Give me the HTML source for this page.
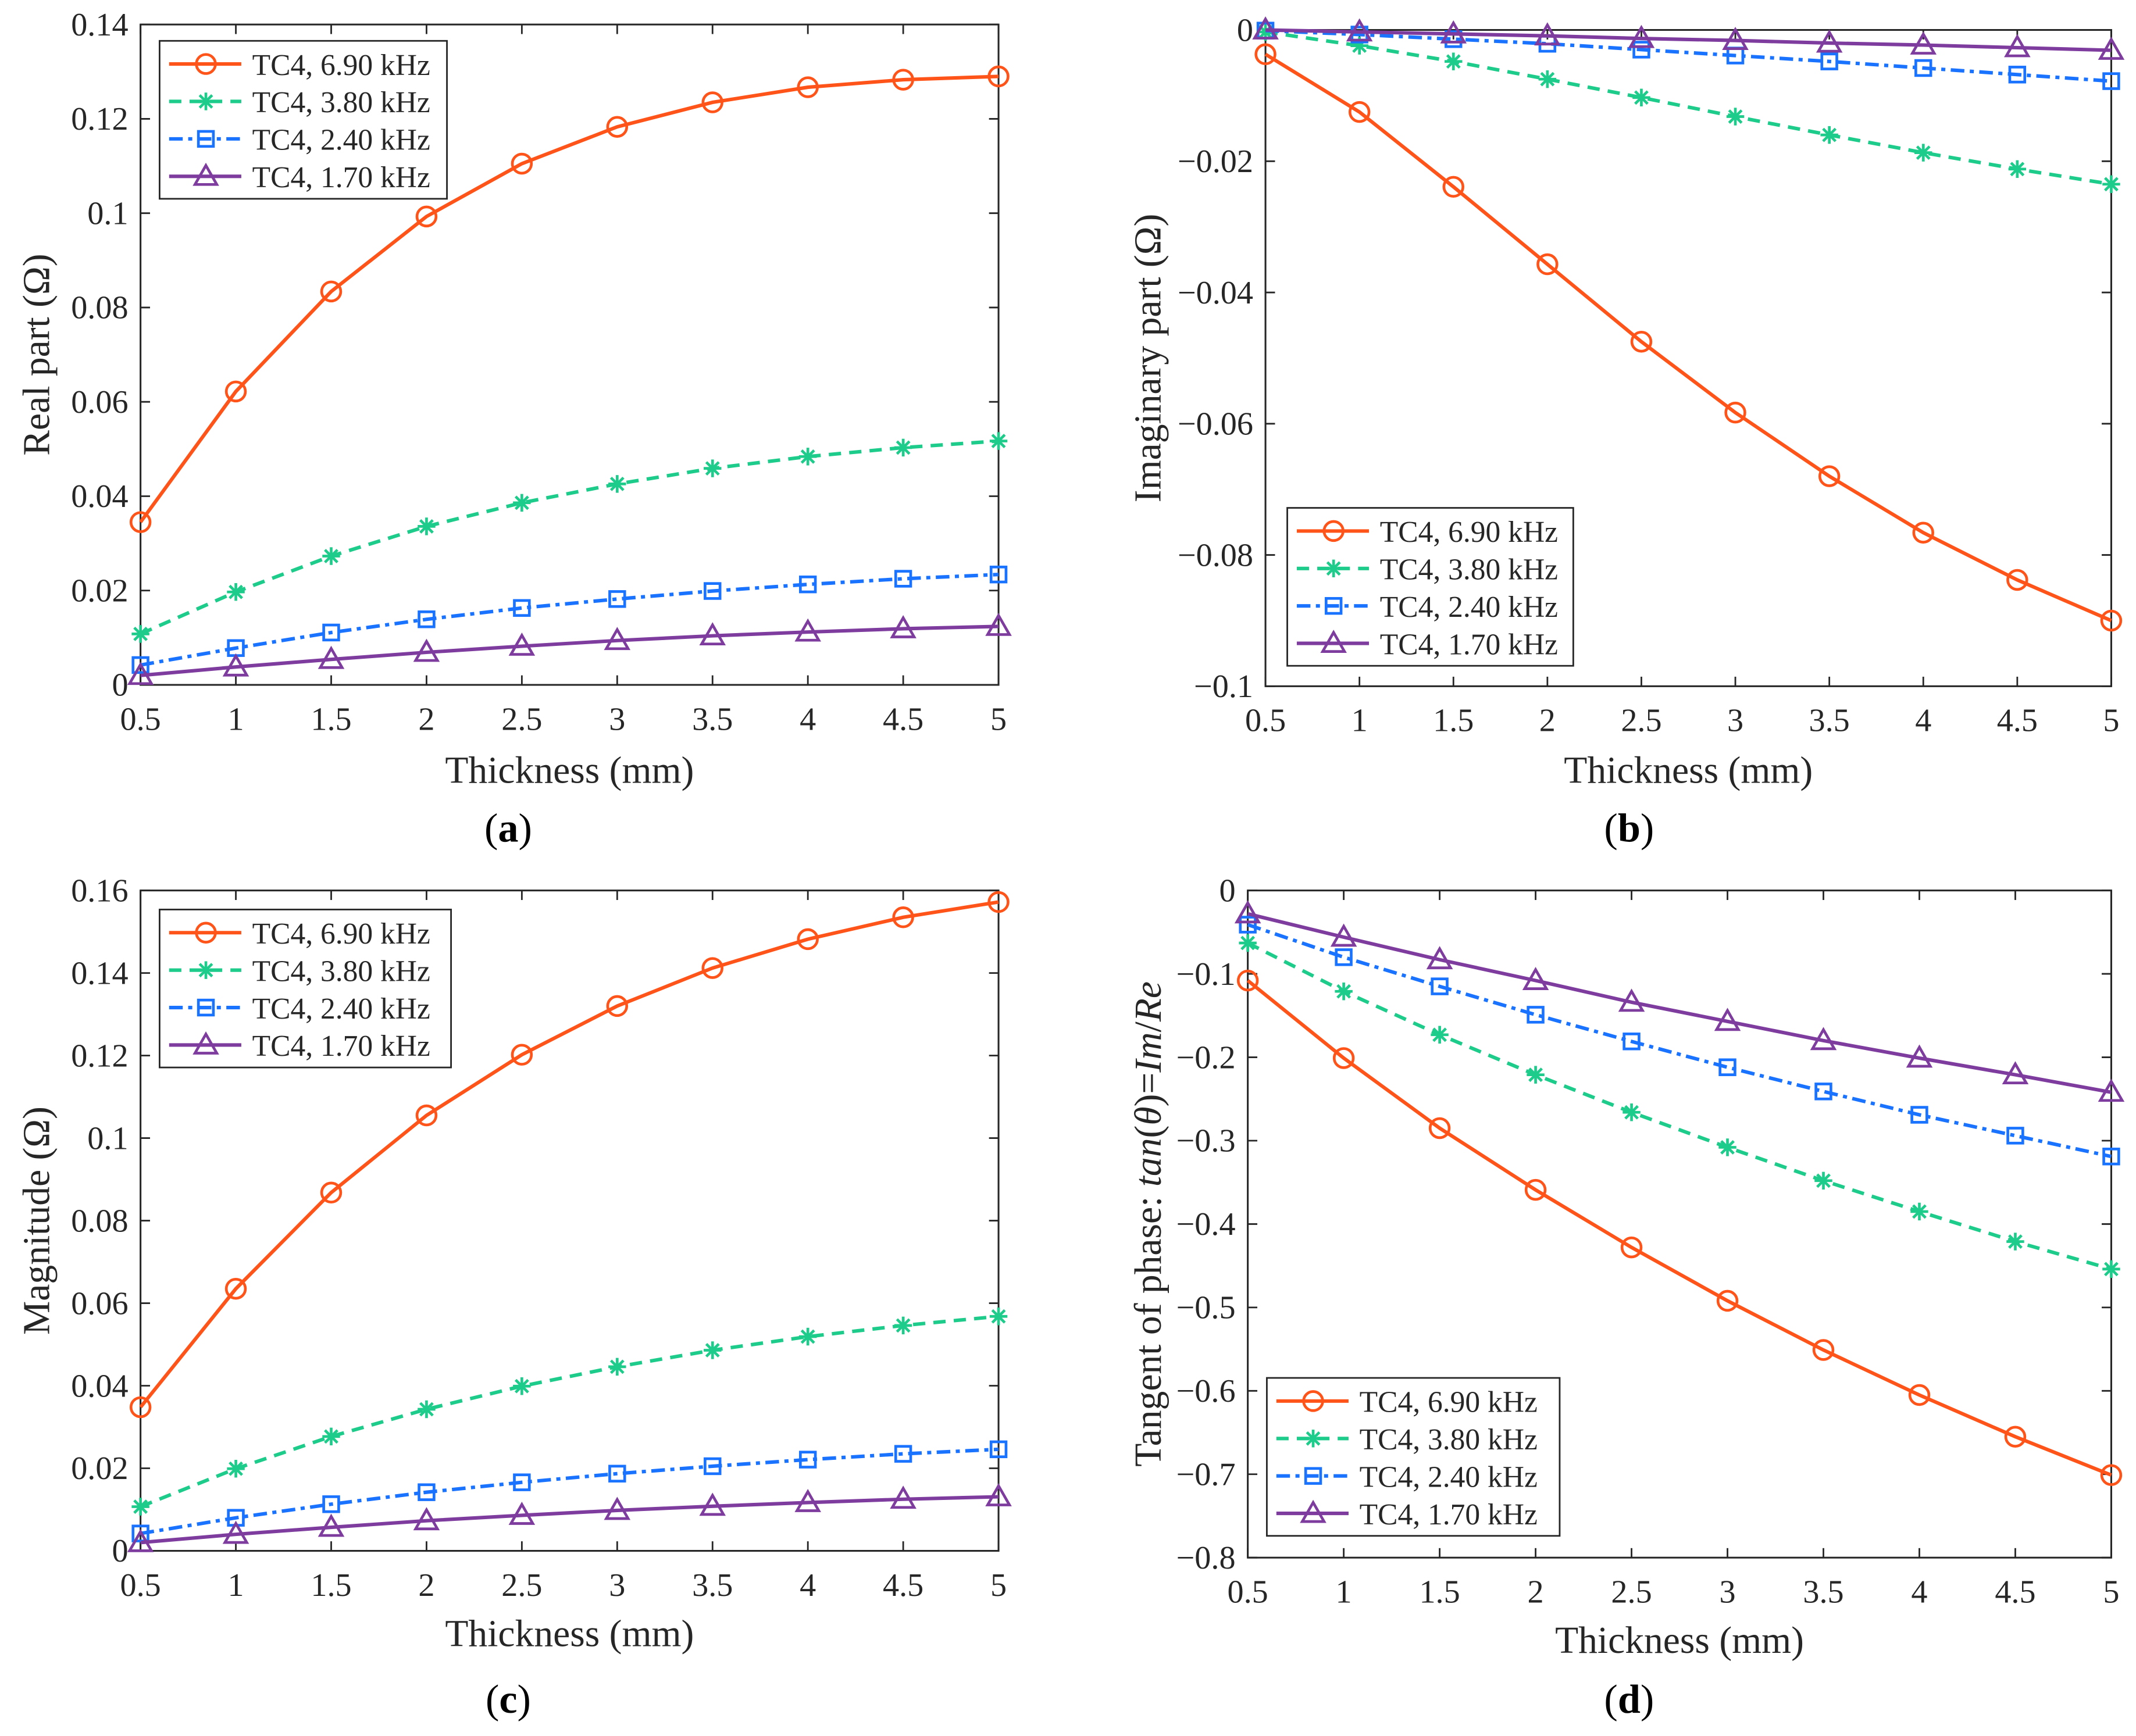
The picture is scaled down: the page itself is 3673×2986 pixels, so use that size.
<!DOCTYPE html>
<html><head><meta charset="utf-8">
<style>
html,body{margin:0;padding:0;background:#fff;}
svg{display:block;font-family:"Liberation Serif",serif;}
</style></head>
<body>
<svg id="fig" width="3673" height="2986" viewBox="0 0 1568 1275" xmlns="http://www.w3.org/2000/svg"></svg>
<script>
const xCats=[0.5,1,1.5,2,2.5,3,3.5,4,4.5,5];
const xTicks=[0.5,1,1.5,2,2.5,3,3.5,4,4.5,5];
const seriesNames=["TC4, 6.90 kHz","TC4, 3.80 kHz","TC4, 2.40 kHz","TC4, 1.70 kHz"];
const aRed=[.0345,.0622,.0834,.0993,.1105,.1183,.1235,.1267,.1283,.129];
const aGreen=[.0108,.0197,.0273,.0336,.0386,.0426,.0459,.0484,.0503,.0517];
const aBlue=[.0042,.0078,.0111,.0139,.0163,.0182,.0199,.0213,.0225,.0234];
const aPurple=[.002,.0038,.0054,.0069,.0082,.0094,.0104,.0112,.0119,.0124];
const bRed=[-.0037,-.0125,-.0239,-.0357,-.0475,-.0583,-.068,-.0766,-.0838,-.09];
const bGreen=[-.0003,-.0024,-.0048,-.0075,-.0103,-.0132,-.016,-.0187,-.0212,-.0235];
const bBlue=[-.0001,-.0007,-.0014,-.0021,-.003,-.0039,-.0048,-.0058,-.0068,-.0078];
const bPurple=[0,-.0003,-.0006,-.0009,-.0013,-.0016,-.002,-.0023,-.0027,-.0031];
const cRed=[.0348,.0635,.0868,.1055,.1202,.132,.1412,.1482,.1535,.1572];
const cGreen=[.0107,.0199,.0277,.0343,.0399,.0446,.0486,.0519,.0546,.0568];
const cBlue=[.0042,.008,.0113,.0142,.0166,.0187,.0205,.0221,.0235,.0246];
const cPurple=[.002,.004,.0057,.0073,.0086,.0098,.0108,.0117,.0125,.0131];
const dRed=[-.108,-.201,-.285,-.359,-.428,-.492,-.551,-.605,-.655,-.701];
const dGreen=[-.063,-.121,-.173,-.221,-.266,-.308,-.348,-.385,-.421,-.454];
const dBlue=[-.041,-.08,-.115,-.149,-.181,-.212,-.241,-.269,-.294,-.319];
const dPurple=[-.028,-.056,-.083,-.108,-.134,-.157,-.18,-.201,-.221,-.242];
const aTicks=[0,0.02,0.04,0.06,0.08,0.1,0.12,0.14];
const aTickLabels=["0","0.02","0.04","0.06","0.08","0.1","0.12","0.14"];
const bTicks=[-0.1,-0.08,-0.06,-0.04,-0.02,0];
const bTickLabels=["\u22120.1","\u22120.08","\u22120.06","\u22120.04","\u22120.02","0"];
const cTicks=[0,0.02,0.04,0.06,0.08,0.1,0.12,0.14,0.16];
const cTickLabels=["0","0.02","0.04","0.06","0.08","0.1","0.12","0.14","0.16"];
const dTicks=[-0.8,-0.7,-0.6,-0.5,-0.4,-0.3,-0.2,-0.1,0];
const dTickLabels=["\u22120.8","\u22120.7","\u22120.6","\u22120.5","\u22120.4","\u22120.3","\u22120.2","\u22120.1","0"];

const NS="http://www.w3.org/2000/svg";
const svg=document.getElementById('fig');
const colors=["#FF5419","#1DCC8A","#1A73FF","#7D3C9E"];
const dashes=["","9,6","10,4,3,4",""];
function el(tag,attrs,parent){const e=document.createElementNS(NS,tag);for(const k in attrs)e.setAttribute(k,attrs[k]);(parent||svg).appendChild(e);return e;}
function marker(g,k,x,y,c){
  let m;
  if(k===0){m=el('circle',{cx:x,cy:y,r:7,fill:'none',stroke:c,'stroke-width':2},g);}
  else if(k===1){m=el('g',{stroke:c,'stroke-width':2},g);
    for(let a=0;a<4;a++){const t=a*Math.PI/4;el('line',{x1:x-6.5*Math.cos(t),y1:y-6.5*Math.sin(t),x2:x+6.5*Math.cos(t),y2:y+6.5*Math.sin(t)},m);}}
  else if(k===2){m=el('rect',{x:x-5.5,y:y-5.5,width:11,height:11,fill:'none',stroke:c,'stroke-width':2},g);}
  else {m=el('polygon',{points:`${x},${y-8} ${x-8},${y+6} ${x+8},${y+6}`,fill:'none',stroke:c,'stroke-width':2},g);}
  
  
}
function panel(id,L,R,T,B,ymin,ymax,yt,ytl,series,ylabel,ylabelX,xlabelY,tagText,tagX,tagY,leg){
  const g=el('g',{});
  
  
  const sx=v=>L+(v-0.5)/(4.5)*(R-L);
  const sy=v=>B-(v-ymin)/(ymax-ymin)*(B-T);
  const box=el('rect',{x:L,y:T,width:R-L,height:B-T,fill:'#fff',stroke:'#262626','stroke-width':1.3},g);
  
  
  xTicks.forEach(v=>{
    el('line',{x1:sx(v),y1:B,x2:sx(v),y2:B-7,stroke:'#262626','stroke-width':1.2},g);
    el('line',{x1:sx(v),y1:T,x2:sx(v),y2:T+7,stroke:'#262626','stroke-width':1.2},g);
    const t=el('text',{x:sx(v),y:B+33,'font-size':24,'text-anchor':'middle',fill:'#262626'},g);
    t.textContent=String(v);
    
    
  });
  yt.forEach((v,i)=>{
    el('line',{x1:L,y1:sy(v),x2:L+7,y2:sy(v),stroke:'#262626','stroke-width':1.2},g);
    el('line',{x1:R,y1:sy(v),x2:R-7,y2:sy(v),stroke:'#262626','stroke-width':1.2},g);
    const t=el('text',{x:L-9,y:sy(v)+8,'font-size':24,'text-anchor':'end',fill:'#262626'},g);
    t.textContent=ytl[i];
    
    
  });
  series.forEach((s,k)=>{
    const pts=s.map((v,i)=>sx(xCats[i])+','+sy(v)).join(' ');
    const pl=el('polyline',{points:pts,fill:'none',stroke:colors[k],'stroke-width':2.6,'stroke-dasharray':dashes[k]},g);
    
    
    s.forEach((v,i)=>marker(g,k,sx(xCats[i]),sy(v),colors[k]));
  });
  const xl=el('text',{x:(L+R)/2,y:xlabelY,'font-size':28,'text-anchor':'middle',fill:'#262626'},g);
  xl.textContent='Thickness (mm)';
  
  
  const yl=el('text',{x:ylabelX,y:(T+B)/2,'font-size':28,'text-anchor':'middle',fill:'#262626',transform:`rotate(-90 ${ylabelX} ${(T+B)/2})`},g);
  yl.innerHTML=ylabel;
  
  
  const tg=el('text',{x:tagX,y:tagY,'font-size':30,'text-anchor':'middle',fill:'#000'},g);
  tg.innerHTML='(<tspan font-weight="bold">'+tagText+'</tspan>)';
  
  
  // legend
  const lg=el('g',{},g);
  
  
  el('rect',{x:leg[0],y:leg[1],width:leg[2],height:116,fill:'#fff',stroke:'#262626','stroke-width':1.2},lg);
  seriesNames.forEach((n,k)=>{
    const yy=leg[1]+17+k*27.5;
    const e=el('g',{},lg);
    
    
    el('line',{x1:leg[0]+7,y1:yy,x2:leg[0]+60,y2:yy,stroke:colors[k],'stroke-width':2.6,'stroke-dasharray':dashes[k]},e);
    marker(e,k,leg[0]+34,yy,colors[k]);
    const t=el('text',{x:leg[0]+68,y:yy+8,'font-size':22,fill:'#262626'},e);
    t.textContent=n;
  });
}
panel('a',103,733,18,503,0,0.14,aTicks,aTickLabels,[aRed,aGreen,aBlue,aPurple],'Real part (Ω)',36,575,'a',373,618,[117,30,211]);
panel('b',929,1550,22,504,-0.1,0,bTicks,bTickLabels,[bRed,bGreen,bBlue,bPurple],'Imaginary part (Ω)',852,575,'b',1196,618,[945,373,210]);
panel('c',103,733,654,1139,0,0.16,cTicks,cTickLabels,[cRed,cGreen,cBlue,cPurple],'Magnitude (Ω)',36,1209,'c',373,1258,[117,668,214]);
panel('d',916,1550,654,1144,-0.8,0,dTicks,dTickLabels,[dRed,dGreen,dBlue,dPurple],'Tangent of phase: <tspan font-style="italic">tan</tspan>(<tspan font-style="italic">θ</tspan>)=<tspan font-style="italic">Im</tspan>/<tspan font-style="italic">Re</tspan>',852,1214,'d',1196,1258,[930,1012,215]);
</script>
</body></html>
